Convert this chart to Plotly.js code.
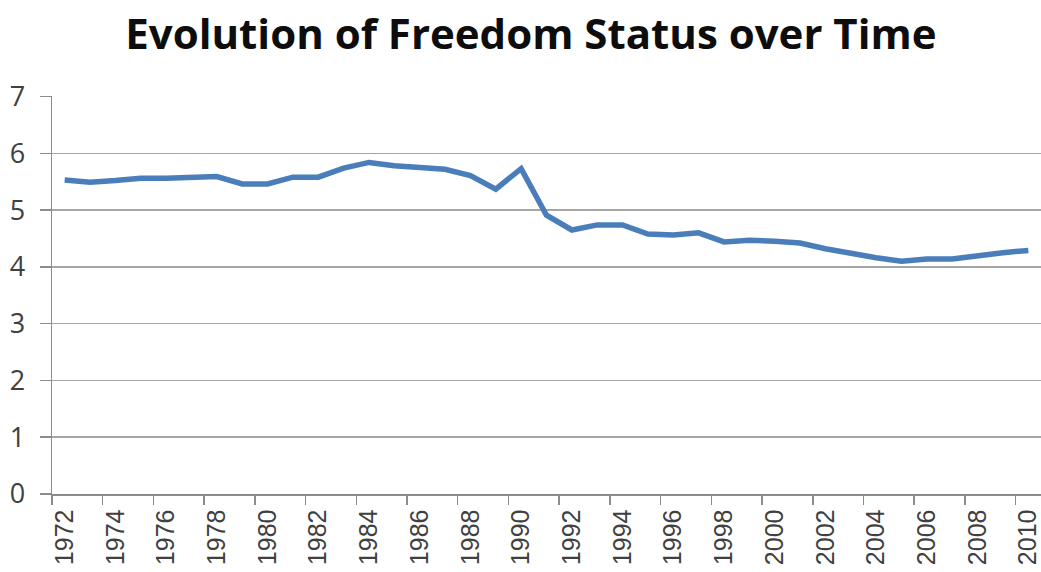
<!DOCTYPE html>
<html>
<head>
<meta charset="utf-8">
<script src="https://cdn.plot.ly/plotly-3.0.1.min.js"></script>
<style>html,body{margin:0;padding:0;background:#fff;}#chart{width:1041px;height:572px;}</style>
</head>
<body>
<div id="chart"></div>
<script>
const years = ["1972","1973","1974","1975","1976","1977","1978","1979","1980","1981","1982","1983","1984","1985","1986","1987","1988","1989","1990","1991","1992","1993","1994","1995","1996","1997","1998","1999","2000","2001","2002","2003","2004","2005","2006","2007","2008","2009","2010"];
const freedomStatus = [5.53,5.49,5.52,5.56,5.56,5.57,5.59,5.46,5.46,5.58,5.58,5.74,5.84,5.78,5.75,5.72,5.61,5.37,5.73,4.91,4.65,4.74,4.74,4.58,4.56,4.60,4.44,4.47,4.45,4.42,4.32,4.23,4.16,4.10,4.14,4.14,4.20,4.25,4.29];
const chartTitle = "Evolution of Freedom Status over Time";

const trace = {
  x: years,
  y: freedomStatus,
  type: "scatter",
  mode: "lines",
  line: {color: "#4A7EBB", width: 5.5},
  hoverinfo: "x+y"
};

const layout = {
  width: 1041,
  height: 572,
  margin: {l: 52, r: 0, t: 96, b: 78},
  paper_bgcolor: "#ffffff",
  plot_bgcolor: "#ffffff",
  showlegend: false,
  title: {
    text: chartTitle,
    font: {family: "Open Sans, Lato, sans-serif", size: 42, color: "#0d0d0d", weight: 700},
    x: 0.51, xanchor: "center", y: 0.94, yanchor: "middle"
  },
  xaxis: {
    type: "category",
    range: [-0.5, 38.5],
    tickson: "boundaries",
    dtick: 2,
    tickmode: "linear",
    tick0: 0,
    tickangle: -90,
    ticks: "outside",
    ticklen: 9,
    tickwidth: 1.5,
    tickcolor: "#8c8c8c",
    ticklabelstandoff: 4,
    showgrid: false,
    showline: true,
    linecolor: "#8c8c8c",
    linewidth: 1.5,
    zeroline: false,
    tickfont: {family: "Liberation Sans, Arial, sans-serif", size: 25, color: "#404040"}
  },
  yaxis: {
    range: [0, 7.01],
    tickvals: [0, 1, 2, 3, 4, 5, 6, 7],
    ticktext: ["0", "1", "2", "3", "4", "5", "6", "7"],
    ticks: "outside",
    ticklen: 11,
    tickwidth: 1.5,
    tickcolor: "#8c8c8c",
    ticklabelstandoff: 9,
    showgrid: true,
    gridcolor: "#a6a6a6",
    gridwidth: 1.5,
    showline: true,
    linecolor: "#8c8c8c",
    linewidth: 1.5,
    zeroline: false,
    tickfont: {family: "Open Sans, sans-serif", size: 27, color: "#404040"}
  }
};

Plotly.newPlot("chart", [trace], layout, {displayModeBar: false, staticPlot: true});
</script>
</body>
</html>
